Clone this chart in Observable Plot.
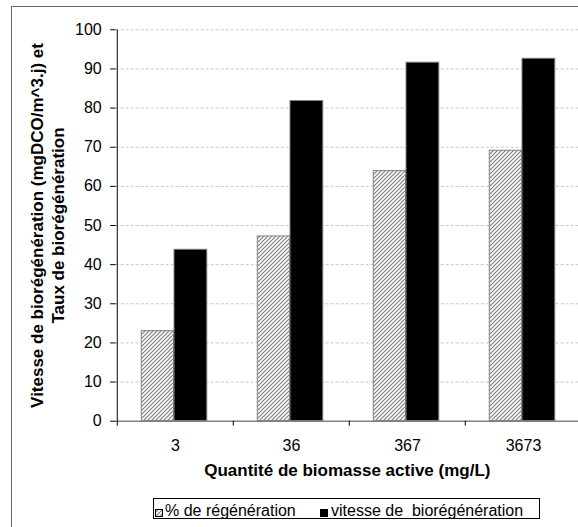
<!DOCTYPE html>
<html><head><meta charset="utf-8">
<script src="https://cdn.jsdelivr.net/npm/d3@7"></script>
<script src="https://cdn.jsdelivr.net/npm/@observablehq/plot@0.6"></script>
<style>
body{margin:0;background:#fff;overflow:hidden}
#wrap{position:relative;width:578px;height:527px;overflow:hidden;font-family:"Liberation Sans",Arial,sans-serif;color:#000;background:#fff}
#frame{position:absolute;left:11px;top:6px;width:620px;height:620px;border:1px solid #6a6a6a;box-sizing:border-box;pointer-events:none}
#chart{position:absolute;left:0;top:0}
#legend{position:absolute;left:152.5px;top:498px;width:387px;height:21px;border:1px solid #000;box-sizing:border-box;background:#fff;font-size:16px;line-height:16px}
#legend .sw{position:absolute;top:10px;width:8px;height:8px}
#legend .lb{position:absolute;top:4.2px;white-space:pre}
</style></head><body>
<div id="wrap"><div id="chart"></div><div id="legend"></div><div id="frame"></div></div>
<script>
const categories = ["3", "36", "367", "3673"];
const regeneration = [23.0, 47.2, 63.9, 69.1];
const vitesse = [43.8, 81.8, 91.6, 92.6];
const yTicks = [0, 10, 20, 30, 40, 50, 60, 70, 80, 90, 100];
const seriesNames = ["% de régénération", "vitesse de  biorégénération"];
const xTitle = "Quantité de biomasse active (mg/L)";
const yTitle = ["Vitesse de biorégénération (mgDCO/m^3.j) et", "Taux de biorégénération"];

const rows = categories.map((c, i) => ({cat: c, reg: regeneration[i], vit: vitesse[i]}));

const left = 115.7, right = 581.7;
const bw = (right - left) / categories.length;

const svg = Plot.plot({
  width: 578,
  height: 485,
  marginLeft: left,
  marginRight: 0,
  marginTop: 29.3,
  marginBottom: 64.3,
  style: {fontFamily: "'Liberation Sans', Arial, sans-serif", fontSize: "16px", color: "#000", background: "transparent", overflow: "visible"},
  x: {type: "band", domain: categories, range: [left, right], padding: 0, label: null},
  y: {domain: [0, 100], label: null},
  marks: [
    Plot.gridY(yTicks.filter(t => t > 0), {stroke: "#c8c8c8", strokeOpacity: 1, strokeDasharray: "3,2"}),
    Plot.barY(rows, {x: "cat", y: "reg", fill: "url(#hatch)", stroke: "#808080", insetLeft: 24.3, insetRight: 59.5}),
    Plot.barY(rows, {x: "cat", y: "vit", fill: "#000", stroke: "#808080", insetLeft: 57, insetRight: 26.2}),
    Plot.ruleY([0], {stroke: "#808080", strokeWidth: 1.6}),
    Plot.ruleX([categories[0]], {x: d => d, dx: -bw / 2, stroke: "#000"}),
    Plot.axisY(yTicks, {tickSize: 5.5, tickPadding: 9, label: null, stroke: "#000"}),
    Plot.axisX({tickSize: 0, tickPadding: 18.4, label: null}),
    Plot.axisX({tickSize: 5, tickFormat: () => "", dx: -bw / 2, label: null, stroke: "#000"}),
    Plot.text([xTitle], {frameAnchor: "bottom", dy: 55, fontSize: 17, fontWeight: "bold", fill: "#000"}),
    Plot.text([yTitle.join("\n")], {frameAnchor: "left", textAnchor: "middle", dx: -69.4, rotate: -90, fontSize: 17, lineHeight: 1.2, fontWeight: "bold", fill: "#000"})
  ]
});

const defs = d3.select(svg).insert("defs", ":first-child");
const pat = defs.append("pattern").attr("id", "hatch").attr("patternUnits", "userSpaceOnUse")
  .attr("width", 4).attr("height", 4);
pat.append("rect").attr("width", 4).attr("height", 4).attr("fill", "#fff");
pat.append("path").attr("d", "M-1,1 l2,-2 M0,4 l4,-4 M3,5 l2,-2")
  .attr("stroke", "#808080").attr("stroke-width", 1.2);

document.getElementById("chart").appendChild(svg);

// legend
const lg = d3.select("#legend");
const sw1 = lg.append("svg").attr("class", "sw").style("left", "1.5px");
const d1 = sw1.append("defs").append("pattern").attr("id", "hatchL").attr("patternUnits", "userSpaceOnUse")
  .attr("width", 4).attr("height", 4);
d1.append("rect").attr("width", 4).attr("height", 4).attr("fill", "#fff");
d1.append("path").attr("d", "M-1,1 l2,-2 M0,4 l4,-4 M3,5 l2,-2").attr("stroke", "#808080").attr("stroke-width", 1.2);
sw1.append("rect").attr("x", 0.5).attr("y", 0.5).attr("width", 7).attr("height", 7)
  .attr("fill", "url(#hatchL)").attr("stroke", "#000");
lg.append("span").attr("class", "lb").style("left", "11.5px").text(seriesNames[0]);
const sw2 = lg.append("svg").attr("class", "sw").style("left", "166.5px");
sw2.append("rect").attr("width", 8).attr("height", 8).attr("fill", "#000");
lg.append("span").attr("class", "lb").style("left", "177.5px").text(seriesNames[1]);
</script>
</body></html>
